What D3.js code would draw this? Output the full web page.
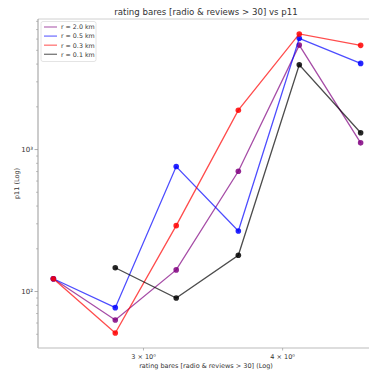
<!DOCTYPE html>
<html>
<head>
<meta charset="utf-8">
<script src="https://cdn.jsdelivr.net/npm/d3@7"></script>
<style>
  body { margin: 0; background: #fff; }
  text { font-family: "DejaVu Sans", sans-serif; fill: #333; }
</style>
</head>
<body>
<div id="chart"></div>
<script>
// rating values (x, log scale)
var ratings = [2.49, 2.83, 3.21, 3.65, 4.14, 4.70];

// p11 per radius; null = no point
var r20 = [123, 63, 142, 703, 5440, 1115];
var r05 = [123, 77, 759, 267, 6070, 4045];
var r03 = [123, 51, 291, 1893, 6520, 5420];
var r01 = [null, 147, 90, 180, 3960, 1313];

var seriesNames = ["r = 2.0 km", "r = 0.5 km", "r = 0.3 km", "r = 0.1 km"];
var seriesColors = ["#800080", "#0000ff", "#ff0000", "#000000"];
var seriesValues = [r20, r05, r03, r01];

var xTicks = [3, 4];
var xTickLabels = ["3 × 10⁰", "4 × 10⁰"];
var yTicks = [100, 1000];
var yTickLabels = ["10²", "10³"];

var w = 369, h = 377;
var plotLeft = 38, plotRight = 376, plotTop = 19, plotBottom = 348;

var svg = d3.select("#chart").append("svg")
  .attr("width", w).attr("height", h);

// matplotlib-like 5% margin in log space
function logPad(vals) {
  var lo = Math.log10(d3.min(vals)), hi = Math.log10(d3.max(vals));
  var p = (hi - lo) * 0.05;
  return [Math.pow(10, lo - p), Math.pow(10, hi + p)];
}
var allY = [].concat(r20, r05, r03, r01).filter(function(v) { return v != null; });

var x = d3.scaleLog().domain(logPad(ratings)).range([plotLeft, plotRight]);
var y = d3.scaleLog().domain(logPad(allY)).range([plotBottom, plotTop]);

// frame
svg.append("line").attr("x1", plotLeft).attr("x2", plotRight).attr("y1", plotTop).attr("y2", plotTop)
  .attr("stroke", "#d0d0d0").attr("stroke-width", 1);
svg.append("line").attr("x1", plotLeft).attr("x2", plotLeft).attr("y1", plotTop).attr("y2", plotBottom)
  .attr("stroke", "#999").attr("stroke-width", 1);
svg.append("line").attr("x1", plotLeft).attr("x2", plotRight).attr("y1", plotBottom).attr("y2", plotBottom)
  .attr("stroke", "#bbb").attr("stroke-width", 1.2);

// y minor ticks
var yMinor = [];
[10, 100, 1000].forEach(function(dec) {
  for (var k = 2; k <= 9; k++) {
    var v = dec * k;
    if (v > y.domain()[0] && v < y.domain()[1]) yMinor.push(v);
  }
});
svg.selectAll(".yminor").data(yMinor).enter().append("line")
  .attr("x1", plotLeft - 2).attr("x2", plotLeft)
  .attr("y1", function(d) { return y(d); }).attr("y2", function(d) { return y(d); })
  .attr("stroke", "#999").attr("stroke-width", 0.6);

svg.selectAll(".ymajor").data(yTicks).enter().append("line")
  .attr("x1", plotLeft - 3.5).attr("x2", plotLeft)
  .attr("y1", function(d) { return y(d); }).attr("y2", function(d) { return y(d); })
  .attr("stroke", "#999").attr("stroke-width", 0.8);

svg.selectAll(".ylab").data(yTicks).enter().append("text")
  .attr("x", plotLeft - 5).attr("y", function(d) { return y(d) + 2.5; })
  .attr("text-anchor", "end").attr("font-size", 7)
  .text(function(d, i) { return yTickLabels[i]; });

// x ticks
svg.selectAll(".xtick").data(xTicks).enter().append("line")
  .attr("x1", function(d) { return x(d); }).attr("x2", function(d) { return x(d); })
  .attr("y1", plotBottom).attr("y2", plotBottom + 2.5)
  .attr("stroke", "#999").attr("stroke-width", 0.7);

svg.selectAll(".xlab").data(xTicks).enter().append("text")
  .attr("x", function(d) { return x(d); }).attr("y", plotBottom + 11)
  .attr("text-anchor", "middle").attr("font-size", 6.5)
  .text(function(d, i) { return xTickLabels[i]; });

// titles
svg.append("text").attr("x", (plotLeft + plotRight) / 2 - 1).attr("y", 15)
  .attr("text-anchor", "middle").attr("font-size", 8.6)
  .text("rating bares [radio & reviews > 30] vs p11");

svg.append("text").attr("x", (plotLeft + plotRight) / 2 - 1).attr("y", 368)
  .attr("text-anchor", "middle").attr("font-size", 6.5)
  .text("rating bares [radio & reviews > 30] (Log)");

svg.append("text")
  .attr("transform", "translate(19," + ((plotTop + plotBottom) / 2) + ") rotate(-90)")
  .attr("text-anchor", "middle").attr("font-size", 6.5)
  .text("p11 (Log)");

// series
var line = d3.line()
  .defined(function(d) { return d != null; })
  .x(function(d, i) { return x(ratings[i]); })
  .y(function(d) { return y(d); });

seriesValues.forEach(function(vals, s) {
  var g = svg.append("g");
  g.append("path").datum(vals)
    .attr("d", line)
    .attr("fill", "none")
    .attr("stroke", seriesColors[s])
    .attr("stroke-opacity", 0.7)
    .attr("stroke-width", 1.3);
  g.selectAll("circle")
    .data(vals.map(function(v, i) { return {v: v, i: i}; }).filter(function(d) { return d.v != null; }))
    .enter().append("circle")
    .attr("cx", function(d) { return x(ratings[d.i]); })
    .attr("cy", function(d) { return y(d.v); })
    .attr("r", 2.8)
    .attr("fill", seriesColors[s])
    .attr("fill-opacity", 0.85);
});

// legend
var lg = svg.append("g");
lg.append("rect").attr("x", 41).attr("y", 21.5).attr("width", 55).attr("height", 40)
  .attr("rx", 2).attr("fill", "#fff").attr("fill-opacity", 0.8)
  .attr("stroke", "#ddd").attr("stroke-width", 0.8);
seriesNames.forEach(function(name, s) {
  var yy = 27 + s * 9.1;
  lg.append("line").attr("x1", 44).attr("x2", 57).attr("y1", yy).attr("y2", yy)
    .attr("stroke", seriesColors[s]).attr("stroke-opacity", 0.5).attr("stroke-width", 1.4);
  lg.append("text").attr("x", 61).attr("y", yy + 2.3).attr("font-size", 6.3)
    .text(name);
});
</script>
</body>
</html>
